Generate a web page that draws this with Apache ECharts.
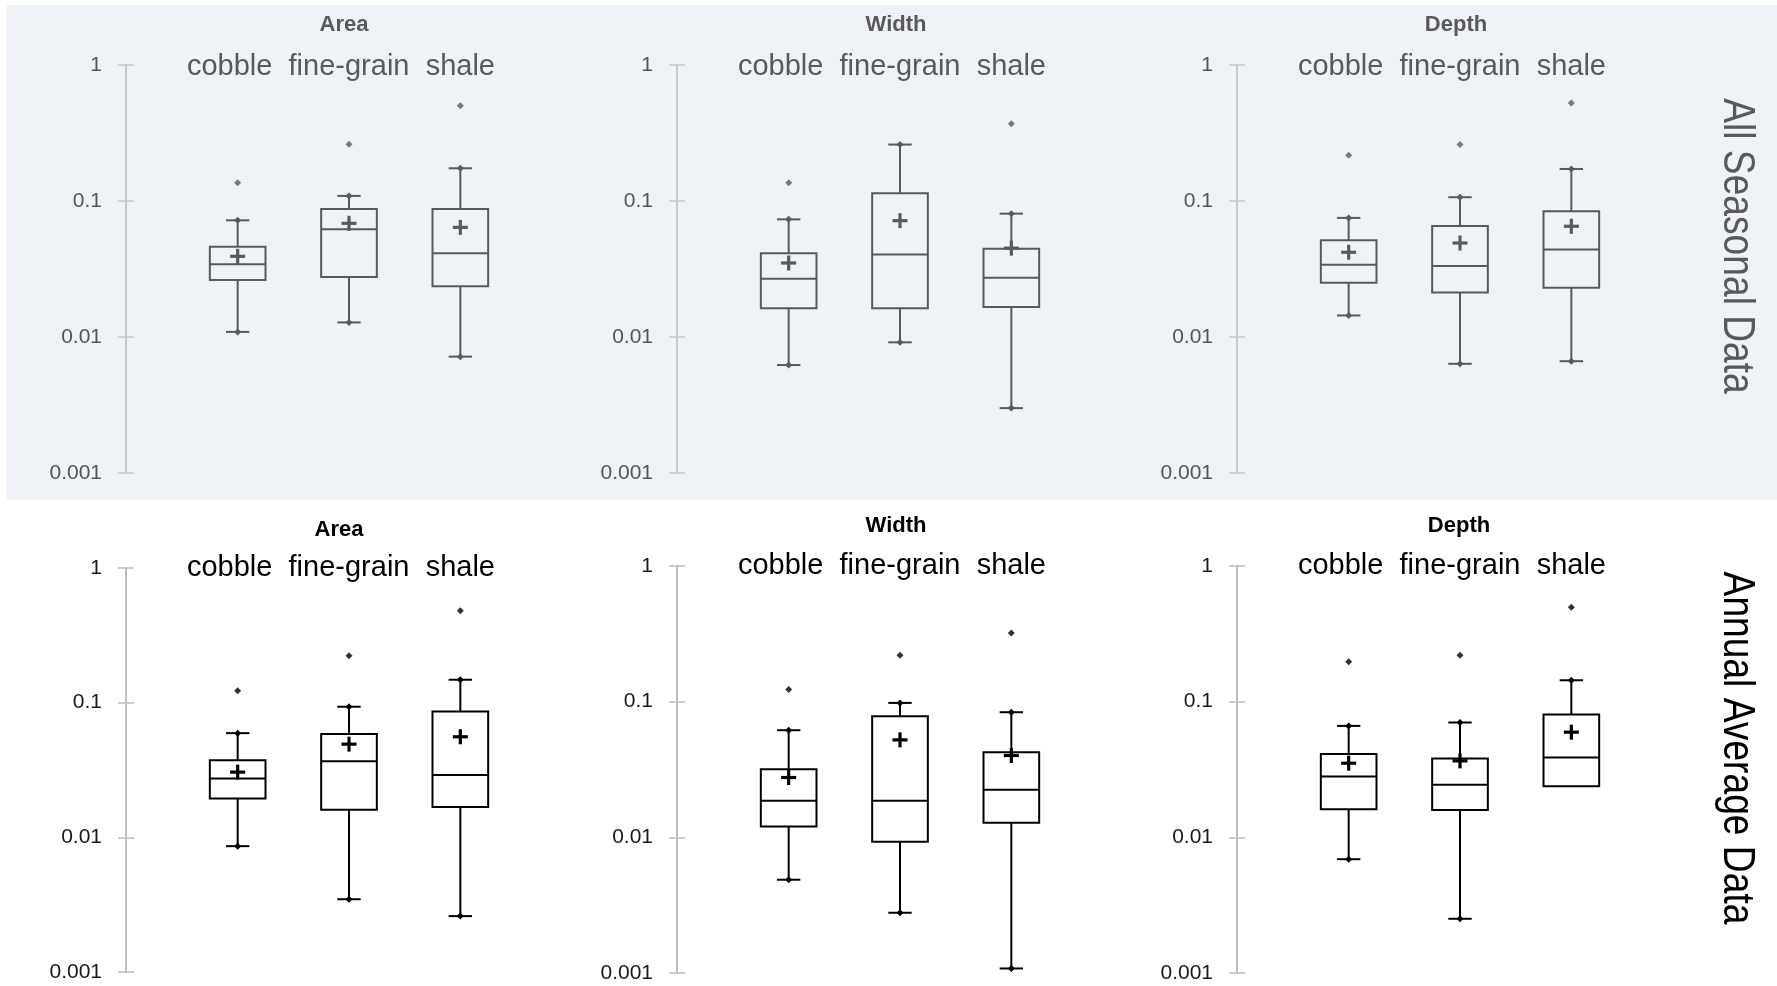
<!DOCTYPE html>
<html><head><meta charset="utf-8">
<script src="https://cdn.jsdelivr.net/npm/echarts@6/dist/echarts.min.js"></script>
<style>html,body{margin:0;padding:0;background:#fff}#c{width:1777px;height:986px}</style>
</head><body><div id="c"></div>
<script>
// ---------- DATA ----------
const categories = ['cobble', 'fine-grain', 'shale'];
const panelTitles = ['Area', 'Width', 'Depth'];
const rowLabels = ['All Seasonal Data', 'Annual Average Data'];
const yTicks = [0.001, 0.01, 0.1, 1];

// [min, Q1, median, Q3, max] per category
const seasonalArea = [[0.0109, 0.0262, 0.0342, 0.0461, 0.0721], [0.0128, 0.0276, 0.0619, 0.0873, 0.109], [0.00717, 0.0236, 0.0412, 0.0873, 0.174]];
const seasonalAreaMean = [0.0392, 0.0685, 0.064];
const seasonalAreaOutliers = [0.136, 0.261, 0.502];

const seasonalWidth = [[0.00622, 0.01625, 0.0268, 0.0412, 0.0733], [0.00914, 0.01625, 0.0405, 0.114, 0.26], [0.0030, 0.01662, 0.0273, 0.0446, 0.0807]];
const seasonalWidthMean = [0.035, 0.0717, 0.045];
const seasonalWidthOutliers = [0.136, null, 0.37];

const seasonalDepth = [[0.0144, 0.0251, 0.034, 0.0514, 0.0751], [0.00635, 0.0212, 0.0333, 0.0656, 0.1066], [0.00664, 0.023, 0.0439, 0.0841, 0.172]];
const seasonalDepthMean = [0.042, 0.0491, 0.0652];
const seasonalDepthOutliers = [0.217, 0.26, 0.525];

const annualArea = [[0.0086, 0.0194, 0.0273, 0.0374, 0.0594], [0.00347, 0.016, 0.0368, 0.0584, 0.0933], [0.0026, 0.0168, 0.029, 0.086, 0.148]];
const annualAreaMean = [0.0305, 0.0492, 0.0558];
const annualAreaOutliers = [0.1226, 0.2232, 0.482];

const annualWidth = [[0.00487, 0.012, 0.0186, 0.0318, 0.0616], [0.00278, 0.00927, 0.0186, 0.0781, 0.0979], [0.00108, 0.0128, 0.0224, 0.0424, 0.0836]];
const annualWidthMean = [0.0276, 0.0523, 0.0401];
const annualWidthOutliers = [0.1228, 0.2198, 0.321];

const annualDepth = [[0.0069, 0.0161, 0.0281, 0.0412, 0.0663], [0.00251, 0.0159, 0.0244, 0.0381, 0.0702], [0.0238, 0.0238, 0.0387, 0.0804, 0.1438]];
const annualDepthMean = [0.0352, 0.0366, 0.0596];
const annualDepthOutliers = [0.197, 0.2198, 0.496];

// ---------- LAYOUT ----------
const panels = [
  { row: 0, col: 0, box: seasonalArea, mean: seasonalAreaMean, out: seasonalAreaOutliers },
  { row: 0, col: 1, box: seasonalWidth, mean: seasonalWidthMean, out: seasonalWidthOutliers },
  { row: 0, col: 2, box: seasonalDepth, mean: seasonalDepthMean, out: seasonalDepthOutliers },
  { row: 1, col: 0, box: annualArea, mean: annualAreaMean, out: annualAreaOutliers },
  { row: 1, col: 1, box: annualWidth, mean: annualWidthMean, out: annualWidthOutliers },
  { row: 1, col: 2, box: annualDepth, mean: annualDepthMean, out: annualDepthOutliers }
];
const colLeft = [182, 733, 1293];
const gridWidth = 334;
const axisOffset = 56;
const gridTop = [[65, 65, 65], [568, 566, 566]];
const gridHeight = [[408, 408, 408], [404, 407, 407]];
const rowColor = ['#595959', '#000000'];
const labelColor = ['#555555', '#1a1a1a'];
const axisColor = ['#c8c8c8', '#bdbdbd'];
const titlePos = [[[344, 25], [896, 25], [1456, 25]], [[339, 530], [896, 526], [1459, 526]]];
const rowLabelPos = [[1736, 246], [1736, 748]];
const catLabelMargin = [-2, 0];

function makeRender(color) {
  return function (params, api) {
    const i = api.value(0);
    const vMin = api.value(1), vQ1 = api.value(2), vMed = api.value(3), vQ3 = api.value(4), vMax = api.value(5), vMean = api.value(6);
    const p0 = api.coord([0, vMed]), p1 = api.coord([1, vMed]);
    const band = Math.abs(p1[0] - p0[0]);
    const bw = band * 0.5, cw = band * 0.21;
    const cx = api.coord([i, vMed])[0];
    const y = v => api.coord([i, v])[1];
    const yMin = y(vMin), yQ1 = y(vQ1), yMed = y(vMed), yQ3 = y(vQ3), yMax = y(vMax), yMean = y(vMean);
    const ch = [];
    const line = (x1, y1, x2, y2, w) => ({ type: 'line', shape: { x1, y1, x2, y2 }, style: { stroke: color, lineWidth: w || 2 } });
    const diamond = (yy) => ({ type: 'polygon', shape: { points: [[cx, yy - 3.5], [cx + 3.5, yy], [cx, yy + 3.5], [cx - 3.5, yy]] }, style: { fill: color } });
    if (vMax > vQ3) { ch.push(line(cx, yQ3, cx, yMax)); ch.push(line(cx - cw / 2, yMax, cx + cw / 2, yMax)); ch.push(diamond(yMax)); }
    if (vMin < vQ1) { ch.push(line(cx, yQ1, cx, yMin)); ch.push(line(cx - cw / 2, yMin, cx + cw / 2, yMin)); ch.push(diamond(yMin)); }
    ch.push({ type: 'rect', shape: { x: cx - bw / 2, y: yQ3, width: bw, height: yQ1 - yQ3 }, style: { stroke: color, lineWidth: 2, fill: 'rgba(0,0,0,0)' } });
    ch.push(line(cx - bw / 2, yMed, cx + bw / 2, yMed));
    ch.push(line(cx - 7.5, yMean, cx + 7.5, yMean, 3.2));
    ch.push(line(cx, yMean - 7.5, cx, yMean + 7.5, 3.2));
    return { type: 'group', children: ch };
  };
}

const grids = [], xAxes = [], yAxes = [], series = [], graphics = [];
graphics.push({ type: 'rect', z: -10, shape: { x: 7, y: 5, width: 1770, height: 495 }, style: { fill: '#eff2f7' } });

panels.forEach((p, k) => {
  const r = p.row, c = p.col;
  grids.push({ left: colLeft[c], top: gridTop[r][c], width: gridWidth, height: gridHeight[r][c], containLabel: false });
  xAxes.push({
    type: 'category', gridIndex: k, data: categories, position: 'top', boundaryGap: true,
    axisLine: { show: false }, axisTick: { show: false }, splitLine: { show: false },
    axisLabel: {
      show: true, interval: 0, margin: catLabelMargin[r], verticalAlign: 'middle', color: rowColor[r], fontSize: 29, fontFamily: 'Liberation Sans',
      formatter: (v, i) => i === 0 ? '{l|' + v + '}' : v,
      rich: { l: { padding: [0, 16, 0, 0], color: rowColor[r], fontSize: 29, fontFamily: 'Liberation Sans' } }
    }
  });
  const common = { type: 'log', logBase: 10, gridIndex: k, min: yTicks[0], max: yTicks[yTicks.length - 1], offset: axisOffset, position: 'left', splitLine: { show: false } };
  yAxes.push(Object.assign({}, common, {
    axisLine: { show: true, lineStyle: { color: axisColor[r], width: 2 } },
    axisTick: { show: true, length: 8, lineStyle: { color: axisColor[r], width: 1.5 } },
    axisLabel: { show: true, margin: 24, color: labelColor[r], fontSize: 21, fontFamily: 'Liberation Sans', formatter: v => String(+Number(v).toPrecision(3)) }
  }));
  yAxes.push(Object.assign({}, common, {
    axisLine: { show: false },
    axisTick: { show: true, inside: true, length: 8, lineStyle: { color: axisColor[r], width: 1.5 } },
    axisLabel: { show: false }
  }));
  series.push({
    type: 'custom', xAxisIndex: k, yAxisIndex: 2 * k, clip: false,
    renderItem: makeRender(rowColor[r]),
    encode: { x: 0, y: [1, 2, 3, 4, 5, 6] },
    data: p.box.map((b, i) => [i, b[0], b[1], b[2], b[3], b[4], p.mean[i]])
  });
  series.push({
    type: 'scatter', xAxisIndex: k, yAxisIndex: 2 * k, symbol: 'diamond', symbolSize: 7,
    itemStyle: { color: rowColor[r] },
    data: p.out.map((v, i) => v == null ? null : [i, v]).filter(d => d)
  });
  graphics.push({
    type: 'text', x: titlePos[r][c][0], y: titlePos[r][c][1],
    style: { text: panelTitles[c], font: 'bold 22px "Liberation Sans"', fill: rowColor[r], align: 'center', verticalAlign: 'middle' }
  });
});
rowLabels.forEach((t, r) => {
  graphics.push({
    type: 'text', x: rowLabelPos[r][0], y: rowLabelPos[r][1], rotation: -Math.PI / 2, scaleX: 0.845,
    style: { text: t, font: '44px "Liberation Sans"', fill: rowColor[r], align: 'center', verticalAlign: 'middle' }
  });
});

const chart = echarts.init(document.getElementById('c'), null, { renderer: 'canvas' });
chart.setOption({
  animation: false,
  backgroundColor: '#ffffff',
  grid: grids, xAxis: xAxes, yAxis: yAxes, series: series, graphic: graphics
});
</script></body></html>
